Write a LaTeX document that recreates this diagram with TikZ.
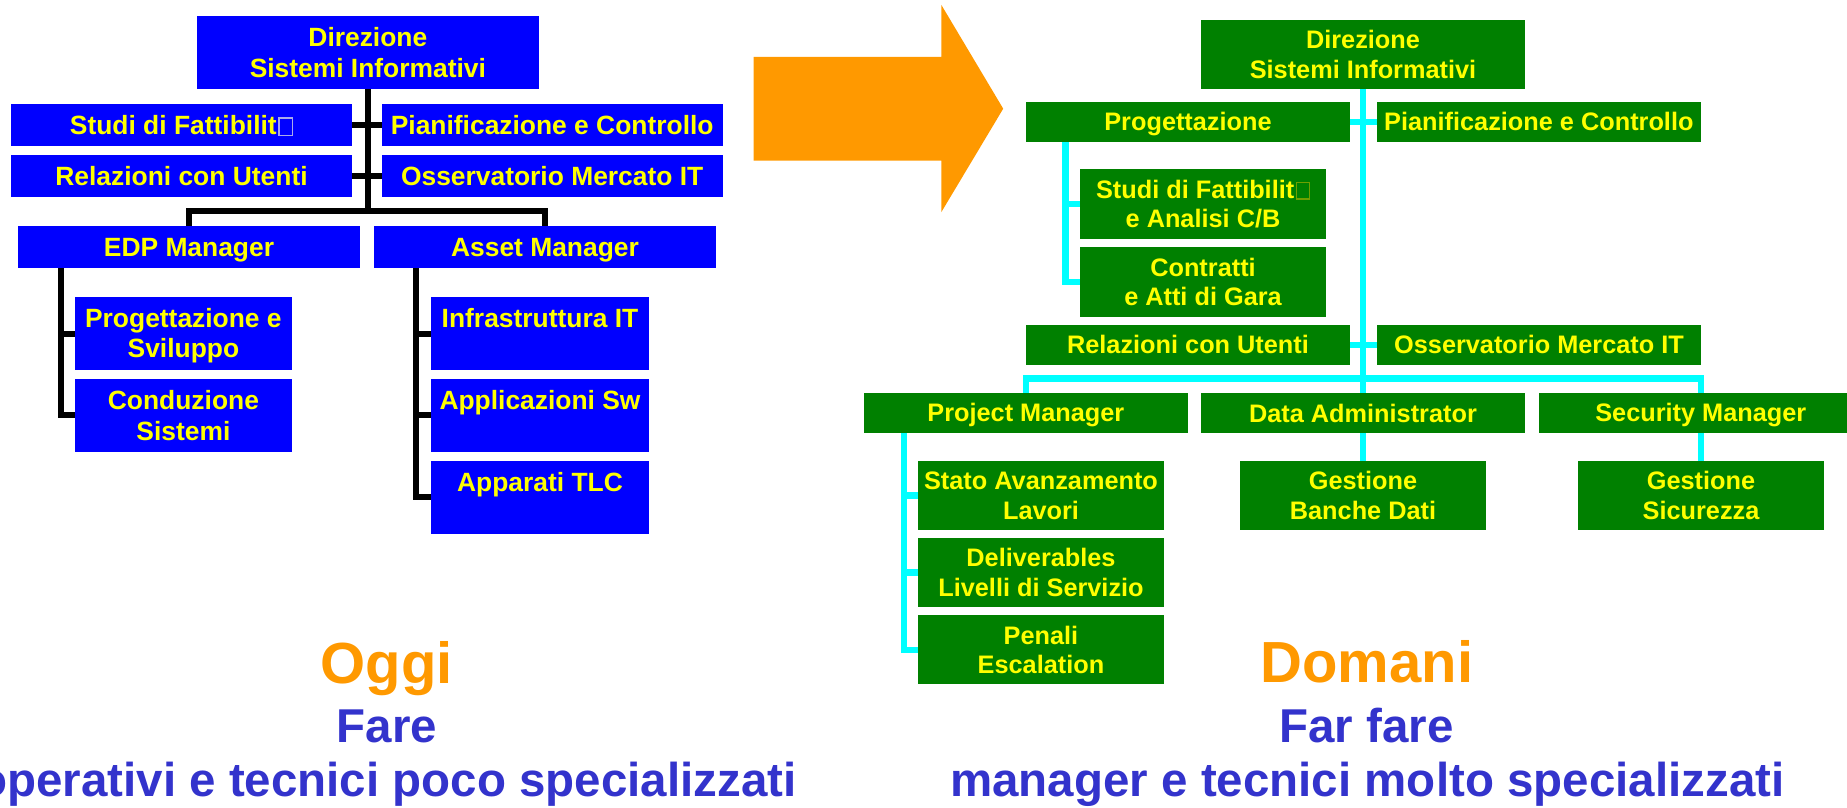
\documentclass[tikz,border=0pt]{standalone}
\usepackage{fontspec}
\setmainfont{Liberation Sans}
\usetikzlibrary{calc}

\definecolor{boxblue}{RGB}{0,0,255}
\definecolor{boxgreen}{RGB}{0,128,0}
\definecolor{labelyellow}{RGB}{255,255,0}
\definecolor{linkcyan}{RGB}{0,255,255}
\definecolor{accentorange}{RGB}{255,153,0}
\definecolor{captionblue}{RGB}{51,51,204}
\definecolor{glyphonblue}{RGB}{170,170,235}
\definecolor{glyphongreen}{RGB}{110,160,0}

% invisible strut: fixes line height/depth so text sits centred on its caps
\newcommand\ls{\rule[-0.18em]{0pt}{1.08em}}
% placeholder box for an unavailable character
\newcommand\nog[1]{\hspace{0.06em}{\setlength\fboxsep{0pt}\setlength\fboxrule{0.05em}\color{#1}\fbox{\rule{0pt}{0.6em}\hspace{0.46em}}}}
\newcommand\leftboxfont{\fontsize{26.4}{30.6}\selectfont\bfseries}
\newcommand\rightboxfont{\fontsize{25.3}{29.4}\selectfont\bfseries}

\pgfdeclarelayer{background}
\pgfsetlayers{background,main}

\begin{document}
\begin{tikzpicture}[x=1pt,y=-1pt,
  orgbox/.style={rectangle, inner sep=0pt, outer sep=0pt, align=center, text=labelyellow},
  oldbox/.style={orgbox, fill=boxblue, font=\leftboxfont},
  newbox/.style={orgbox, fill=boxgreen, font=\rightboxfont},
  oldlink/.style={draw=black, line width=6pt},
  newlink/.style={draw=linkcyan, line width=6.5pt},
  eraheading/.style={font=\fontsize{58}{62}\selectfont\bfseries, text=accentorange, anchor=base, inner sep=0pt},
  eraline/.style={font=\fontsize{47.5}{50}\selectfont\bfseries, text=captionblue, anchor=base, inner sep=0pt},
]
\useasboundingbox (0,0) rectangle (1847,808);

% ---------------- current organisation (blue) ----------------
\node[oldbox, minimum width=342pt, minimum height=73pt] (ldir) at (367.85,52.5) {\ls Direzione\\\ls Sistemi Informativi};
\node[oldbox, minimum width=341pt, minimum height=42pt] (lstudi) at (181.5,125) {\ls Studi di Fattibilit\nog{glyphonblue}};
\node[oldbox, minimum width=341pt, minimum height=42pt] (lpian) at (552.2,125) {\ls Pianificazione e Controllo};
\node[oldbox, minimum width=341pt, minimum height=42pt] (lrel) at (181.5,176) {\ls Relazioni con Utenti};
\node[oldbox, minimum width=341pt, minimum height=42pt] (loss) at (552.2,176) {\ls Osservatorio Mercato IT};
\node[oldbox, minimum width=342pt, minimum height=42pt] (ledp) at (189,247) {\ls EDP Manager};
\node[oldbox, minimum width=342pt, minimum height=42pt] (lasset) at (545,247) {\ls Asset Manager};
\node[oldbox, minimum width=217pt, minimum height=73pt] (lprog) at (183.4,333.5) {\ls Progettazione e\\\ls Sviluppo};
\node[oldbox, minimum width=217pt, minimum height=73pt] (lcond) at (183.4,415.3) {\ls Conduzione\\\ls Sistemi};
\node[oldbox, minimum width=218pt, minimum height=73pt] (linfra) at (540,333.5) {\ls Infrastruttura IT\\\ls};
\node[oldbox, minimum width=218pt, minimum height=73pt] (lappl) at (540,415.3) {\ls Applicazioni Sw\\\ls};
\node[oldbox, minimum width=218pt, minimum height=73pt] (lappar) at (540,497.3) {\ls Apparati TLC\\\ls};

\begin{pgfonlayer}{background}
  \coordinate (lbar) at (367.85,211);
  \draw[oldlink] (ldir.south) -- (lbar);
  \draw[oldlink] (ledp.north) |- (lbar) -| (lasset.north);
  \draw[oldlink] (lstudi.east) -- (lpian.west);
  \draw[oldlink] (lrel.east) -- (loss.west);
  \coordinate (ledpstem) at ([xshift=42.5pt]ledp.south west);
  \draw[oldlink] (ledpstem) |- (lcond.west);
  \draw[oldlink] (ledpstem |- lprog.west) -- (lprog.west);
  \coordinate (lassetstem) at ([xshift=42.4pt]lasset.south west);
  \draw[oldlink] (lassetstem) |- (lappar.west);
  \draw[oldlink] (lassetstem |- linfra.west) -- (linfra.west);
  \draw[oldlink] (lassetstem |- lappl.west) -- (lappl.west);
\end{pgfonlayer}

% ---------------- transition arrow ----------------
\fill[accentorange] (753.6,57) -- (941.4,57) -- (941.4,5) -- (1003.2,108.7)
  -- (941.4,212) -- (941.4,160.7) -- (753.6,160.7) -- cycle;

% ---------------- future organisation (green) ----------------
\node[newbox, minimum width=324pt, minimum height=69pt] (rdir) at (1363,54.5) {\ls Direzione\\\ls Sistemi Informativi};
\node[newbox, minimum width=324pt, minimum height=39.7pt] (rprog) at (1188,121.85) {\ls Progettazione};
\node[newbox, minimum width=324.3pt, minimum height=39.7pt] (rpian) at (1538.85,121.85) {\ls Pianificazione e Controllo};
\node[newbox, minimum width=246pt, minimum height=69.7pt] (rstudi) at (1203,203.85) {\ls Studi di Fattibilit\nog{glyphongreen}\\\ls e Analisi C/B};
\node[newbox, minimum width=246pt, minimum height=69.7pt] (rcontr) at (1203,281.85) {\ls Contratti\\\ls e Atti di Gara};
\node[newbox, minimum width=324pt, minimum height=39.7pt] (rrel) at (1188,344.85) {\ls Relazioni con Utenti};
\node[newbox, minimum width=324pt, minimum height=39.7pt] (ross) at (1539,344.85) {\ls Osservatorio Mercato IT};
\node[newbox, minimum width=324pt, minimum height=39.4pt] (rpm) at (1025.85,413) {\ls Project Manager};
\node[newbox, minimum width=324pt, minimum height=39.4pt] (rda) at (1363,413) {\ls Data Administrator};
\node[newbox, minimum width=324pt, minimum height=39.4pt] (rsec) at (1700.8,413) {\ls Security Manager};
\node[newbox, minimum width=245.4pt, minimum height=68.7pt] (rsal) at (1041,495.35) {\ls Stato Avanzamento\\\ls Lavori};
\node[newbox, minimum width=245.4pt, minimum height=68.4pt] (rdel) at (1041,572.5) {\ls Deliverables\\\ls Livelli di Servizio};
\node[newbox, minimum width=245.4pt, minimum height=69pt] (rpen) at (1041,649.8) {\ls Penali\\\ls Escalation};
\node[newbox, minimum width=246pt, minimum height=69pt] (rgbd) at (1363,495.5) {\ls Gestione\\\ls Banche Dati};
\node[newbox, minimum width=246pt, minimum height=69pt] (rgs) at (1701,495.5) {\ls Gestione\\\ls Sicurezza};

\begin{pgfonlayer}{background}
  \coordinate (rbar) at (1363,378.3);
  \draw[newlink] (rdir.south) -- (rda.north);
  \draw[newlink] (rpm.north) |- (rbar) -| (rsec.north);
  \draw[newlink] (rprog.east) -- (rpian.west);
  \draw[newlink] (rrel.east) -- (ross.west);
  \draw[newlink] (rda.south) -- (rgbd.north);
  \draw[newlink] (rsec.south) -- (rsec.south |- rgs.north);
  \coordinate (rprogstem) at ([xshift=39.7pt]rprog.south west);
  \draw[newlink] (rprogstem) |- (rcontr.west);
  \draw[newlink] (rprogstem |- rstudi.west) -- (rstudi.west);
  \coordinate (rpmstem) at ([xshift=40pt]rpm.south west);
  \draw[newlink] (rpmstem) |- (rpen.west);
  \draw[newlink] (rpmstem |- rsal.west) -- (rsal.west);
  \draw[newlink] (rpmstem |- rdel.west) -- (rdel.west);
\end{pgfonlayer}

% ---------------- captions ----------------
\node[eraheading] (oggi) at (386.5,683) {Oggi};
\node[eraline] (fare) at (387,742.5) {Fare};
\node[eraline] (oggisub) at (387.5,796) {operativi e tecnici poco specializzati};
\node[eraheading] (domani) at (1367,682) {Domani};
\node[eraline] (farfare) at (1366.5,742.5) {Far fare};
\node[eraline] (domanisub) at (1367.4,796) {manager e tecnici molto specializzati};
\end{tikzpicture}
\end{document}
